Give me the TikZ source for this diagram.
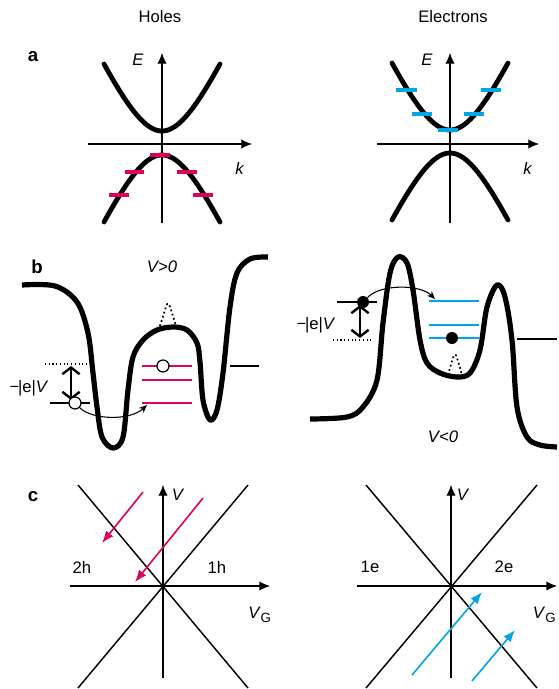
\documentclass[tikz,border=0pt]{standalone}
\usepackage{fontspec}
\setmainfont{Liberation Sans}
\usetikzlibrary{arrows.meta}
\definecolor{holered}{RGB}{222,0,90}
\definecolor{eblue}{RGB}{0,166,226}

\begin{document}
\begin{tikzpicture}[x=0.75pt,y=-0.75pt,
  font=\fontsize{12.5}{15}\selectfont,
  band/.style={line width=3.6pt,line cap=round},
  pot/.style={line width=3.9pt,line join=round,smooth,tension=0.55},
  axis/.style={line width=0.8pt,-{Latex[length=8pt,width=7pt]}},
  cone/.style={line width=1.1pt},
  hlev/.style={draw=holered,line width=3pt},
  elev/.style={draw=eblue,line width=3pt},
  lead/.style={line width=2.2pt},
  bump/.style={dotted,line width=1.3pt,smooth,tension=0.7},
  fermi/.style={dotted,line width=0.8pt},
  bias/.style={line width=2pt,
               {Straight Barb[length=5pt,width=13pt,line width=1.8pt]}-{Straight Barb[length=5pt,width=13pt,line width=1.8pt]}},
  hop/.style={line width=0.8pt,-{Stealth[length=6pt,width=5pt]}},
  sweep/.style={line width=1.2pt,-{Latex[length=9pt,width=7pt]}},
  lbl/.style={font=\fontsize{14}{16}\selectfont\bfseries},
  hole/.style={circle,draw,fill=white,line width=0.9pt,inner sep=0pt,minimum size=9pt},
  elec/.style={circle,fill=black,inner sep=0pt,minimum size=9pt}]
\useasboundingbox (0,0) rectangle (558,689);

% titles and panel letters
\node (holes) at (160,17) {Holes};
\node (elecs) at (453,17) {Electrons};
\node[lbl] (pa) at (33,57) {a};
\node[lbl] (pb) at (37,267) {b};
\node[lbl] (pc) at (33,497) {c};

% a: bands
\foreach \cx/\up/\lo in {162/131/155, 450/130/153}{
  \draw[band] plot[domain=-58:58,samples=60,smooth]
    ({\cx+\x},{\up-88*(sqrt(1+(\x/40)^2)-1)});
  \draw[band] plot[domain=-58:58,samples=60,smooth]
    ({\cx+\x},{\lo+88*(sqrt(1+(\x/40)^2)-1)});
}
\draw[axis] (162,223) -- (162,53);
\draw[axis] (88,144) -- (252,144);
\draw[axis] (450,223) -- (450,53);
\draw[axis] (377,144) -- (539,144);
\node (e1) at (138,60) {\textit{E}};
\node (k1) at (240,168) {\textit{k}};
\node (e2) at (427,60) {\textit{E}};
\node (k2) at (528,168) {\textit{k}};

\draw[hlev] (150,155) -- (170,155);
\draw[hlev] (125,172) -- (144,172);
\draw[hlev] (177,172) -- (197,172);
\draw[hlev] (109,195) -- (129,195);
\draw[hlev] (193,195) -- (213,195);

\draw[elev] (438,130) -- (458,130);
\draw[elev] (412,114) -- (432,114);
\draw[elev] (464,114) -- (484,114);
\draw[elev] (396,90) -- (417,90);
\draw[elev] (481,90) -- (501,90);

% b: holes, V>0
\draw[pot] plot coordinates {(22,285) (55,286) (77,302) (88,333) (93,373)
  (97,407) (102,437) (113,448) (123,437) (128,390) (133,357) (143,340)
  (157,330) (173,327) (187,330) (197,343) (200,362) (203,400) (210,420)
  (217,410) (223,373) (230,307) (237,273) (250,259) (268,257)};
\draw[bump] plot coordinates {(160,326) (166,307) (168,304) (170,307) (176,326)};
\draw[lead] (50,403) -- (90,403);
\draw[lead] (230,366) -- (259,366);
\draw[hlev,line width=2pt] (142,366) -- (192,366);
\draw[hlev,line width=2pt] (142,380) -- (192,380);
\draw[hlev,line width=2pt] (142,403) -- (192,403);
\draw[fermi] (45,364) -- (87,364);
\coordinate (fl1) at (71,366);
\coordinate (ll1) at (71,400);
\draw[bias] (fl1) -- (ll1);
\node[hole] (h1) at (75,403) {};
\node[hole] (h2) at (163,366) {};
\coordinate (dot1) at (147,405);
\draw[hop] (h1.south east) .. controls (92,420) and (130,421) .. (dot1);
\node (ev1) at (29,388) {−\kern-1pt|e|\textit{V}};
\node (vp) at (162,267) {\textit{V>0}};

% b: electrons, V<0
\draw[pot] plot coordinates {(310,419) (347,417) (363,407) (377,380) (383,323)
  (390,273) (398,257) (407,263) (413,290) (420,340) (427,363) (440,373)
  (457,377) (470,373) (480,350) (487,307) (497,285) (505,297) (512,340)
  (517,407) (527,437) (540,445) (557,447)};
\draw[bump] plot coordinates {(448,375) (453,358) (455,355) (457,358) (462,375)};
\draw[lead] (337,302) -- (377,302);
\draw[lead] (517,339) -- (557,339);
\draw[elev,line width=2pt] (429,301) -- (479,301);
\draw[elev,line width=2pt] (429,325) -- (479,325);
\draw[elev,line width=2pt] (429,338) -- (479,338);
\draw[fermi] (333,340) -- (373,340);
\coordinate (fl2) at (360,305);
\coordinate (ll2) at (360,338);
\draw[bias] (fl2) -- (ll2);
\node[elec] (n1) at (363,302) {};
\node[elec] (n2) at (452,338) {};
\coordinate (dot2) at (435,299);
\draw[hop] (n1.north east) .. controls (380,284) and (420,284) .. (dot2);
\node (ev2) at (316,325) {−\kern-1pt|e|\textit{V}};
\node (vn) at (443,437) {\textit{V<0}};

% c: stability diagrams
\draw[cone] (78,485) -- (248,688);
\draw[cone] (78,688) -- (248,485);
\draw[axis] (163,678) -- (163,485);
\draw[axis] (70,586) -- (270,586);
\node (v1) at (178,495) {\textit{V}};
\node (vg1) at (260,615) {\textit{V}\textsubscript{\fontsize{10}{12}\selectfont G}};
\node (r2h) at (82,567) {2h};
\node (r1h) at (217,567) {1h};
\draw[sweep,holered] (143,492) -- (102,543);
\draw[sweep,holered] (203,498) -- (135,582);

\draw[cone] (366,485) -- (537,688);
\draw[cone] (366,688) -- (537,485);
\draw[axis] (451,678) -- (451,485);
\draw[axis] (357,586) -- (557,586);
\node (v2) at (463,495) {\textit{V}};
\node[anchor=east,inner sep=1pt] (vg2) at (558,615) {\textit{V}\textsubscript{\fontsize{10}{12}\selectfont G}};
\node (r1e) at (370,567) {1e};
\node (r2e) at (504,567) {2e};
\draw[sweep,eblue] (412,675) -- (482,592);
\draw[sweep,eblue] (472,681) -- (515,630);
\end{tikzpicture}
\end{document}
